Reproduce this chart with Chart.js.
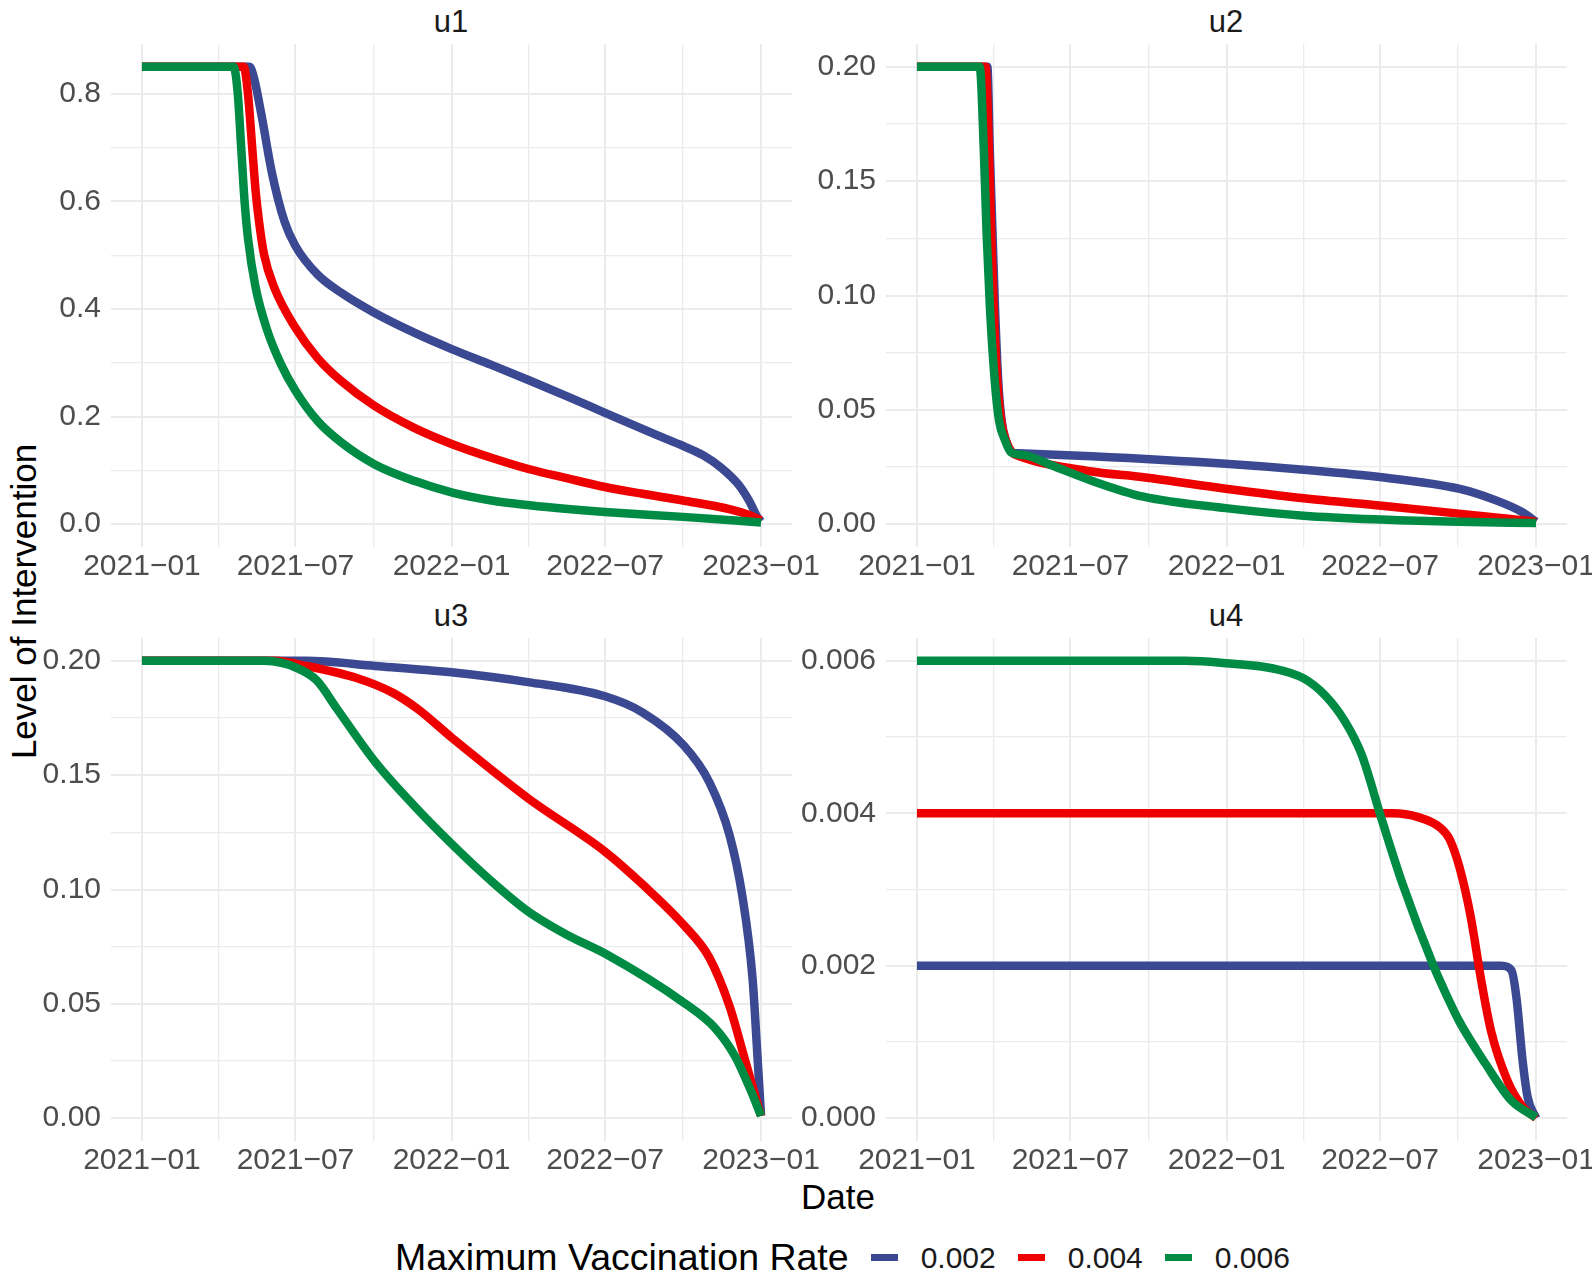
<!DOCTYPE html>
<html>
<head>
<meta charset="utf-8">
<script src="https://cdn.jsdelivr.net/npm/chart.js@4.4.1/dist/chart.umd.min.js"></script>
<style>
  body { margin: 0; width: 1592px; height: 1280px; overflow: hidden; background: #fff; position: relative;
         font-family: "Liberation Sans", Arial, sans-serif; }
  canvas { position: absolute; }
  .txt { position: absolute; line-height: 1; white-space: nowrap; }
  .strip { font-size: 31px; color: #1a1a1a; text-align: center; width: 200px; }
  .axt { font-size: 35px; color: #000; text-align: center; width: 400px; }
  #legend { position: absolute; left: 395px; top: 1239px; height: 37px; display: flex; align-items: center; }
  #legend .title { font-size: 37.5px; color: #000; line-height: 1; }
  #legend .key { width: 27px; height: 7px; margin-left: 22px; }
  #legend .lab { font-size: 30px; color: #1a1a1a; margin-left: 23px; line-height: 1; }
</style>
</head>
<body>
<div class="txt strip" style="left:351px;top:6px">u1</div>
<div class="txt strip" style="left:1126px;top:6px">u2</div>
<div class="txt strip" style="left:351px;top:600px">u3</div>
<div class="txt strip" style="left:1126px;top:600px">u4</div>
<div class="txt axt" style="left:638px;top:1179px">Date</div>
<div class="txt axt" style="left:-177px;top:584px;transform:rotate(-90deg)">Level of Intervention</div>
<div id="legend"></div>

<canvas id="c1"></canvas>
<canvas id="c2"></canvas>
<canvas id="c3"></canvas>
<canvas id="c4"></canvas>

<script>
// x axis: days since 2021-01-01
const xMajorDays = [0, 181, 365, 546, 730];
const xMajorLabels = ['2021\u221201', '2021\u221207', '2022\u221201', '2022\u221207', '2023\u221201'];
const xMinorDays = [90.5, 273, 455.5, 638];

const rateLabels = ['0.002', '0.004', '0.006'];
const rateColors = ['#3B4992', '#EE0000', '#008B45'];

// u1
const u1BlueDays = [0, 127, 132, 141, 153, 168, 181, 207, 235, 274, 321, 366, 412, 457, 502, 546, 577, 608, 638, 663, 683, 703, 716, 726, 730];
const u1BlueVals = [0.85, 0.85, 0.83, 0.76, 0.655, 0.563, 0.517, 0.464, 0.43, 0.393, 0.356, 0.325, 0.296, 0.267, 0.237, 0.207, 0.186, 0.165, 0.1454, 0.127, 0.105, 0.0743, 0.0433, 0.0123, 0.005];
const u1RedDays = [0, 120, 125, 130, 134, 138, 144, 156, 181, 207, 235, 274, 321, 366, 412, 457, 502, 546, 592, 638, 695, 716, 730];
const u1RedVals = [0.85, 0.85, 0.80, 0.70, 0.62, 0.563, 0.501, 0.44, 0.365, 0.309, 0.266, 0.22, 0.179, 0.1486, 0.1235, 0.102, 0.085, 0.069, 0.056, 0.044, 0.027, 0.017, 0.007];
const u1GreenDays = [0, 108, 113, 117, 121, 125, 134, 148, 164, 181, 207, 235, 274, 321, 366, 412, 457, 502, 546, 638, 730];
const u1GreenVals = [0.85, 0.85, 0.80, 0.70, 0.60, 0.532, 0.44, 0.359, 0.297, 0.248, 0.192, 0.152, 0.1115, 0.0805, 0.0587, 0.0440, 0.035, 0.028, 0.0225, 0.0135, 0.003];
const u1YMajor = [0, 0.2, 0.4, 0.6, 0.8];
const u1YMinor = [0.1, 0.3, 0.5, 0.7];

// u2
const u2BlueDays = [0, 83, 86, 89, 92, 96, 100, 105, 112, 120, 206, 364, 456, 548, 639, 682, 713, 730];
const u2BlueVals = [0.2, 0.2, 0.162, 0.1285, 0.095, 0.0615, 0.0449, 0.0365, 0.0314, 0.031, 0.0297, 0.0264, 0.0238, 0.0205, 0.0155, 0.0105, 0.0054, 0.001];
const u2RedDays = [0, 81, 85, 87.5, 90.5, 95, 99.5, 105, 112, 120, 206, 267, 364, 456, 548, 639, 730];
const u2RedVals = [0.2, 0.2, 0.162, 0.1285, 0.095, 0.0615, 0.0449, 0.0365, 0.0314, 0.0298, 0.023, 0.0205, 0.0155, 0.0113, 0.008, 0.0046, 0.001];
const u2GreenDays = [0, 74, 79, 82, 86, 92, 97, 104, 111, 127, 157, 206, 267, 364, 456, 548, 639, 730];
const u2GreenVals = [0.2, 0.2, 0.162, 0.1285, 0.095, 0.0615, 0.0449, 0.0365, 0.0314, 0.0302, 0.026, 0.019, 0.012, 0.007, 0.0037, 0.002, 0.001, 0.0005];
const u2YMajor = [0, 0.05, 0.1, 0.15, 0.2];
const u2YMinor = [0.025, 0.075, 0.125, 0.175];

// u3
const u3BlueDays = [0, 193, 275, 365, 455, 546, 591, 639, 669, 693, 708, 720, 726, 730];
const u3BlueVals = [0.2, 0.2, 0.1978, 0.195, 0.1907, 0.1845, 0.1773, 0.163, 0.147, 0.1236, 0.097, 0.061, 0.0256, 0.001];
const u3RedDays = [0, 157, 193, 254, 296, 325, 365, 455, 546, 591, 639, 669, 693, 711, 730];
const u3RedVals = [0.2, 0.2, 0.1978, 0.1924, 0.186, 0.179, 0.1665, 0.14, 0.1166, 0.102, 0.0844, 0.0702, 0.0488, 0.0256, 0.001];
const u3GreenDays = [0, 145, 182, 206, 230, 275, 320, 365, 411, 455, 502, 546, 639, 675, 699, 717, 730];
const u3GreenVals = [0.2, 0.2, 0.197, 0.1915, 0.179, 0.1558, 0.137, 0.12, 0.104, 0.0905, 0.080, 0.072, 0.0505, 0.0397, 0.0273, 0.0129, 0.001];
const u3YMajor = [0, 0.05, 0.1, 0.15, 0.2];
const u3YMinor = [0.025, 0.075, 0.125, 0.175];

// u4
const u4BlueDays = [0, 689, 701, 707, 714, 720, 730];
const u4BlueVals = [0.002, 0.002, 0.00194, 0.00157, 0.00077, 0.00028, 0.0];
const u4RedDays = [0, 561, 591, 616, 628, 640, 653, 665, 677, 696, 714, 730];
const u4RedVals = [0.004, 0.004, 0.00395, 0.00382, 0.00366, 0.00328, 0.00264, 0.00183, 0.00114, 0.0005, 0.00015, 0.0];
const u4GreenDays = [0, 316, 364, 420, 456, 481, 505, 524, 548, 573, 609, 625, 640, 670, 701, 730];
const u4GreenVals = [0.006, 0.006, 0.00597, 0.0059, 0.00577, 0.00555, 0.0052, 0.00478, 0.00392, 0.00306, 0.002, 0.0016, 0.00126, 0.00072, 0.00023, 0.00001];
const u4YMajor = [0, 0.002, 0.004, 0.006];
const u4YMinor = [0.001, 0.003, 0.005];

// room around each plot area inside its canvas
const AXW = 100, AXH = 40, PADR = 40, PADT = 10;
const FONT = '"Liberation Sans", Arial, sans-serif';

function pts(days, vals) {
    return days.map((d, i) => ({ x: d, y: vals[i] }));
}

function makePanel(id, box, yRange, yMajor, yMinor, digits, series) {
    const cv = document.getElementById(id);
    const w = box.right - box.left + AXW + PADR;
    const h = box.bottom - box.top + PADT + AXH;
    cv.width = w; cv.height = h;
    cv.style.left = (box.left - AXW) + 'px';
    cv.style.top = (box.top - PADT) + 'px';
    cv.style.width = w + 'px';
    cv.style.height = h + 'px';

    const datasets = series.map((s, i) => ({
        label: rateLabels[i],
        data: pts(s[0], s[1]),
        borderColor: rateColors[i],
        borderWidth: 8.5,
        pointRadius: 0,
        fill: false,
        cubicInterpolationMode: 'monotone',
        borderJoinStyle: 'round',
        order: 2 - i   // green drawn on top, like ggplot
    }));

    new Chart(cv, {
        type: 'line',
        data: { datasets },
        options: {
            responsive: false,
            animation: false,
            events: [],
            layout: { padding: { left: 0, top: PADT, right: PADR, bottom: 0 } },
            plugins: { legend: { display: false }, tooltip: { enabled: false } },
            scales: {
                x: {
                    type: 'linear',
                    min: -36.5, max: 766.5,
                    border: { display: false },
                    grid: {
                        color: '#EBEBEB', drawTicks: false,
                        lineWidth: ctx => xMajorDays.includes(ctx.tick.value) ? 2 : 1.3
                    },
                    ticks: {
                        autoSkip: false, maxRotation: 0, padding: 2,
                        color: '#4D4D4D', font: { family: FONT, size: 30 },
                        callback: v => { const k = xMajorDays.indexOf(v); return k >= 0 ? xMajorLabels[k] : ''; }
                    },
                    afterBuildTicks: sc => {
                        sc.ticks = xMajorDays.concat(xMinorDays).sort((a, b) => a - b).map(v => ({ value: v }));
                    },
                    afterFit: sc => { sc.height = AXH; sc.paddingLeft = 0; sc.paddingRight = 0; }
                },
                y: {
                    type: 'linear',
                    min: yRange[0], max: yRange[1],
                    border: { display: false },
                    grid: {
                        color: '#EBEBEB', drawTicks: false,
                        lineWidth: ctx => yMajor.includes(ctx.tick.value) ? 2 : 1.3
                    },
                    ticks: {
                        autoSkip: false, padding: 10,
                        color: '#4D4D4D', font: { family: FONT, size: 30 },
                        callback: v => yMajor.includes(v) ? v.toFixed(digits) : ''
                    },
                    afterBuildTicks: sc => {
                        sc.ticks = yMajor.concat(yMinor).sort((a, b) => a - b).map(v => ({ value: v }));
                    },
                    afterFit: sc => { sc.width = AXW; sc.paddingTop = 0; sc.paddingBottom = 0; }
                }
            }
        }
    });
}

makePanel('c1', { left: 111, top: 44, right: 792, bottom: 547 }, [-0.0425, 0.8925], u1YMajor, u1YMinor, 1,
    [[u1BlueDays, u1BlueVals], [u1RedDays, u1RedVals], [u1GreenDays, u1GreenVals]]);
makePanel('c2', { left: 886, top: 44, right: 1567, bottom: 547 }, [-0.01, 0.21], u2YMajor, u2YMinor, 2,
    [[u2BlueDays, u2BlueVals], [u2RedDays, u2RedVals], [u2GreenDays, u2GreenVals]]);
makePanel('c3', { left: 111, top: 638, right: 792, bottom: 1141 }, [-0.01, 0.21], u3YMajor, u3YMinor, 2,
    [[u3BlueDays, u3BlueVals], [u3RedDays, u3RedVals], [u3GreenDays, u3GreenVals]]);
makePanel('c4', { left: 886, top: 638, right: 1567, bottom: 1141 }, [-0.0003, 0.0063], u4YMajor, u4YMinor, 3,
    [[u4BlueDays, u4BlueVals], [u4RedDays, u4RedVals], [u4GreenDays, u4GreenVals]]);

// shared legend under the panels
let lg = '<span class="title">Maximum Vaccination Rate</span>';
rateLabels.forEach((lab, i) => {
    lg += `<span class="key" style="background:${rateColors[i]}"></span><span class="lab">${lab}</span>`;
});
document.getElementById('legend').innerHTML = lg;
</script>
</body>
</html>
